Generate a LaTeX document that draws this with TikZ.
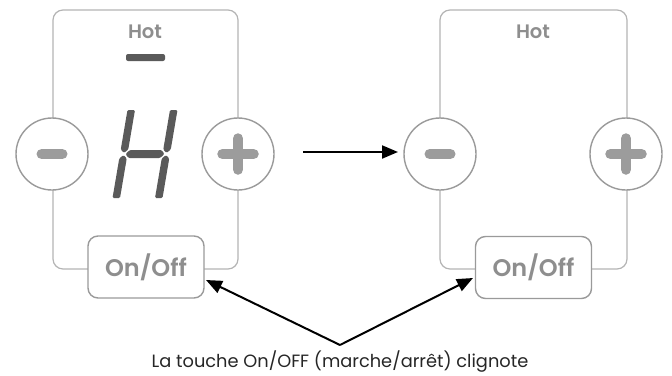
\documentclass[tikz,border=0pt]{standalone}
\usepackage{fontspec}
\setmainfont{Poppins}
\newfontfamily\medfont{Poppins}[UprightFont=* SemiBold,BoldFont=* Bold]
\usetikzlibrary{arrows.meta}
\definecolor{panelgray}{HTML}{B4B4B4}
\definecolor{btngray}{HTML}{9A9A9A}
\definecolor{symgray}{HTML}{9C9C9C}
\definecolor{txtgray}{HTML}{8E8E8E}
\definecolor{seggray}{HTML}{5A5A5A}
\begin{document}
\begin{tikzpicture}[x=1pt,y=-1pt,
  panel/.style={draw=panelgray,line width=1.2pt,rounded corners=10pt},
  btn/.style={circle,draw=btngray,line width=1.4pt,fill=white,minimum size=72pt,inner sep=0pt},
  onoff/.style={draw=btngray,line width=1.4pt,fill=white,rounded corners=10pt,minimum width=116pt,minimum height=62pt,inner sep=0pt,text=txtgray,font=\medfont\fontsize{24}{28}\selectfont},
  hotlabel/.style={text=txtgray,font=\medfont\fontsize{19.5}{24}\selectfont,inner sep=0pt},
  sym/.style={draw=symgray,line width=10.5pt,line cap=round},
  seg/.style={fill=seggray,rounded corners=1.2pt},
  arr/.style={line width=2pt,-{Triangle[length=16pt,width=13pt]}}]
\useasboundingbox (0,0) rectangle (672,375);
% left panel
\draw[panel] (53,10) rectangle (238,269);
\node[btn] (minusL) at (52,154) {};
\node[btn] (plusL) at (238,154) {};
\draw[sym] ([xshift=-10.25pt]minusL.center) -- ([xshift=10.25pt]minusL.center);
\draw[sym] ([xshift=-15.5pt]plusL.center) -- ([xshift=15.5pt]plusL.center);
\draw[sym] ([yshift=-15.5pt]plusL.center) -- ([yshift=15.5pt]plusL.center);
\node[onoff] (offL) at (146,267) {On/Off};
\node[hotlabel] (hotL) at (145,32) {Hot};
\fill[seggray,rounded corners=2pt] (126,54) rectangle (165,61);
% seven segment H
\begin{scope}[shift={(145,154)},xslant=0.17]
  \fill[seg] (-25,-44) -- (-17.5,-44) -- (-17.5,-4.5) -- (-21.25,-1) -- (-25,-4.5) -- cycle;
  \fill[seg] (-25,44) -- (-17.5,44) -- (-17.5,4.5) -- (-21.25,1) -- (-25,4.5) -- cycle;
  \fill[seg] (25,-44) -- (17.5,-44) -- (17.5,-4.5) -- (21.25,-1) -- (25,-4.5) -- cycle;
  \fill[seg] (25,44) -- (17.5,44) -- (17.5,4.5) -- (21.25,1) -- (25,4.5) -- cycle;
  \fill[seg] (-19.5,0) -- (-15.8,-4) -- (15.8,-4) -- (19.5,0) -- (15.8,4) -- (-15.8,4) -- cycle;
\end{scope}
% right panel
\draw[panel] (440,10) rectangle (627,269);
\node[btn] (minusR) at (440,154) {};
\node[btn] (plusR) at (626,154) {};
\draw[sym] ([xshift=-10.25pt]minusR.center) -- ([xshift=10.25pt]minusR.center);
\draw[sym] ([xshift=-15.5pt]plusR.center) -- ([xshift=15.5pt]plusR.center);
\draw[sym] ([yshift=-15.5pt]plusR.center) -- ([yshift=15.5pt]plusR.center);
\node[onoff] (offR) at (533.5,267.5) {On/Off};
\node[hotlabel] (hotR) at (533,32) {Hot};
% arrows
\coordinate (hs) at (303,152);
\coordinate (he) at (398,152);
\draw[arr] (hs) -- (he);
\coordinate (apex) at (340,345);
\coordinate (tipL) at (206,280);
\coordinate (tipR) at (473,278);
\draw[arr] (apex) -- (tipL);
\draw[arr] (apex) -- (tipR);
\node[font=\fontsize{17.8}{21}\selectfont,text=black!85,inner sep=0pt,anchor=base] (caption) at (340,367) {La touche On/OFF (marche/arrêt) clignote};
\end{tikzpicture}
\end{document}
